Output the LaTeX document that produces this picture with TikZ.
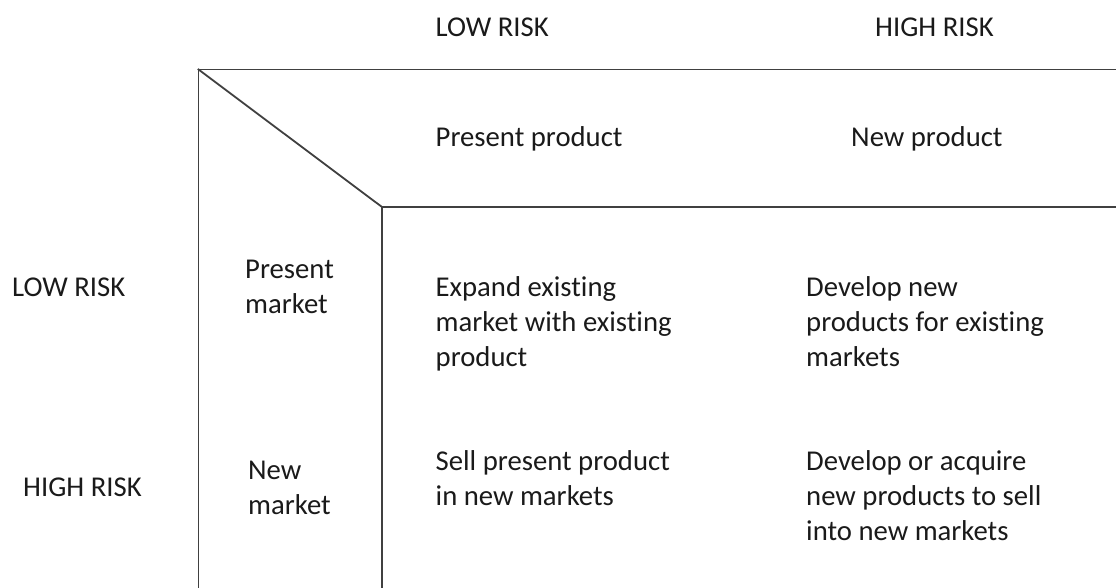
\documentclass[tikz,border=0pt]{standalone}
\usepackage{fontspec}
\setmainfont[Ligatures=NoCommon]{Carlito}
\definecolor{linecol}{HTML}{404040}
\definecolor{txtcol}{HTML}{1A1A1A}
\tikzset{
  frame/.style={draw=linecol, line width=1.8pt, line cap=rect},
  lbl/.style={anchor=base west, inner sep=0pt, align=left, text=txtcol,
    font=\fontsize{28.7}{34.8}\selectfont}
}
\begin{document}
\begin{tikzpicture}[x=1pt,y=-1pt]
\useasboundingbox (0,0) rectangle (1116,588);
% frame coordinates
\coordinate (tl) at (198.5,69.5);
\coordinate (tr) at (1116,69.5);
\coordinate (bl) at (198.5,588);
\coordinate (ic) at (382,207);
\coordinate (ir) at (1116,207);
\coordinate (ib) at (382,588);
\draw[frame] (tr) -- (tl) -- (bl);
\draw[frame] (tl) -- (ic);
\draw[frame] (ir) -- (ic) -- (ib);
% column headers (anchor = baseline of the last line)
\node[lbl] (lowtop) at (435.5,37) {LOW RISK};
\node[lbl] (hightop) at (875,37) {HIGH RISK};
\node[lbl] (pprod) at (435.5,146.5) {Present product};
\node[lbl] (nprod) at (851,146.5) {New product};
% row headers
\node[lbl] (lowleft) at (12,296.5) {LOW RISK};
\node[lbl] (highleft) at (23,496.5) {HIGH RISK};
\node[lbl] (pmkt) at (245,313) {Present\\market};
\node[lbl] (nmkt) at (248,514) {New\\market};
% cells
\node[lbl] (c11) at (435.5,366) {Expand existing\\market with existing\\product};
\node[lbl] (c12) at (806,366.5) {Develop new\\products for existing\\markets};
\node[lbl] (c21) at (435.5,505.5) {Sell present product\\in new markets};
\node[lbl] (c22) at (806,540) {Develop or acquire\\new products to sell\\into new markets};
\end{tikzpicture}
\end{document}
